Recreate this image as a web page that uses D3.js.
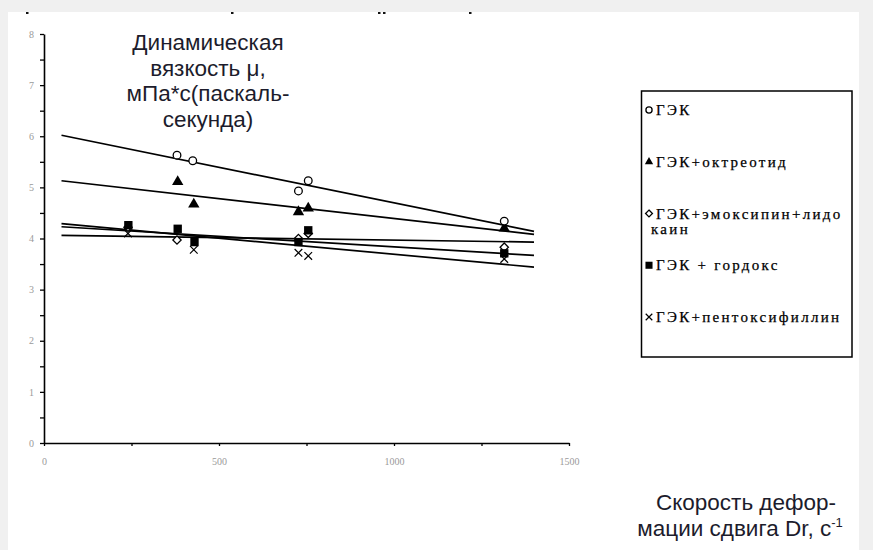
<!DOCTYPE html>
<html><head><meta charset="utf-8">
<script src="https://cdn.jsdelivr.net/npm/d3@7"></script>
<style>
html,body{margin:0;padding:0;background:#f0f0f0;}
svg{display:block;}
</style></head>
<body>
<svg id="chart" width="873" height="550"></svg>
<script>
// ---- data ----
const seriesNames = ["ГЭК", "ГЭК+октреотид", "ГЭК+эмоксипин+лидо|каин", "ГЭК + гордокс", "ГЭК+пентоксифиллин"];
const seriesSymbols = ["circle", "triangle", "diamond", "square", "times"];
const xGEK      = [380, 425, 727, 755, 1315];
const yGEK      = [5.63, 5.52, 4.93, 5.13, 4.34];
const xOktr     = [382, 428, 727, 755, 1315];
const yOktr     = [5.11, 4.67, 4.52, 4.59, 4.20];
const xEmox     = [240, 380, 727, 755, 1315];
const yEmox     = [4.22, 3.97, 4.00, 4.10, 3.83];
const xGord     = [241, 382, 430, 727, 755, 1315];
const yGord     = [4.26, 4.19, 3.93, 3.93, 4.16, 3.71];
const xPent     = [240, 428, 727, 755, 1315];
const yPent     = [4.10, 3.78, 3.72, 3.66, 3.60];
const trendX    = [50, 1400];
const trendStart = [6.02, 5.13, 4.06, 4.23, 4.29];
const trendEnd   = [4.14, 4.08, 3.93, 3.67, 3.44];
const yTicks = [0, 1, 2, 3, 4, 5, 6, 7, 8];
const xTicks = [0, 500, 1000, 1500];
const titleLines = ["Динамическая", "вязкость μ,", "мПа*с(паскаль-", "секунда)"];
const xTitleLines = ["Скорость дефор-", "мации сдвига Dr, с"];

const seriesX = [xGEK, xOktr, xEmox, xGord, xPent];
const seriesY = [yGEK, yOktr, yEmox, yGord, yPent];

const svg = d3.select("#chart");

// white panel
svg.append("rect").attr("x", 8).attr("y", 12).attr("width", 851).attr("height", 538).attr("fill", "#fff");
// clipped text fragments at the top edge
[27, 232, 379, 384, 470].forEach(px => {
  svg.append("rect").attr("x", px - 1).attr("y", 12).attr("width", 2.5).attr("height", 2).attr("fill", "#111");
});

const x = d3.scaleLinear().domain([0, 1500]).range([44, 569]);
const y = d3.scaleLinear().domain([0, 8]).range([443, 34]);

// y axis
const yAxis = d3.axisLeft(y).tickValues(d3.range(0, 8.01, 0.5)).tickSize(4).tickSizeOuter(0)
  .tickPadding(6)
  .tickFormat(d => yTicks.includes(d) ? d : "");
const gy = svg.append("g").attr("transform", `translate(${x(0)},0)`).call(yAxis);
gy.select(".domain").attr("stroke", "#000").attr("stroke-width", 1.6);
gy.selectAll(".tick line").attr("stroke", "#000").attr("stroke-width", 1.3);
gy.selectAll(".tick text").attr("fill", "#9a9a9a").attr("font-family", "Liberation Serif, serif").attr("font-size", 10);

// x axis
const xAxis = d3.axisBottom(x).tickValues(d3.range(0, 1501, 250)).tickSize(3).tickSizeOuter(0)
  .tickPadding(12)
  .tickFormat(d => xTicks.includes(d) ? d : "");
const gx = svg.append("g").attr("transform", `translate(0,${y(0)})`).call(xAxis);
gx.select(".domain").attr("stroke", "#000").attr("stroke-width", 1.6);
gx.selectAll(".tick line").attr("stroke", "#000").attr("stroke-width", 1.3);
gx.selectAll(".tick text").attr("fill", "#9a9a9a").attr("font-family", "Liberation Serif, serif").attr("font-size", 10);

// trend lines
const line = d3.line().x(d => x(d[0])).y(d => y(d[1]));
trendStart.forEach((s, i) => {
  svg.append("path").datum([[trendX[0], s], [trendX[1], trendEnd[i]]])
    .attr("d", line).attr("fill", "none").attr("stroke", "#000").attr("stroke-width", 1.7);
});

// markers
function symbolFor(name) {
  const map = {circle: d3.symbolCircle, triangle: d3.symbolTriangle, diamond: d3.symbolDiamond2, square: d3.symbolSquare, times: d3.symbolTimes};
  return map[name];
}
function styleMarker(sel, name) {
  if (name === "circle" || name === "diamond") sel.attr("fill", "#fff").attr("stroke", "#000").attr("stroke-width", 1.3);
  else if (name === "times") sel.attr("fill", "none").attr("stroke", "#000").attr("stroke-width", 1.2);
  else sel.attr("fill", "#000").attr("stroke", "none");
}
const sizes = {circle: 46, triangle: 56, diamond: 44, square: 70, times: 40};
// draw order: lower series first so top ones are visible as in reference
[4, 2, 3, 1, 0].forEach(si => {
  const name = seriesSymbols[si];
  const pts = seriesX[si].map((xv, k) => [xv, seriesY[si][k]]);
  const g = svg.append("g");
  g.selectAll("path").data(pts).enter().append("path")
    .attr("transform", d => `translate(${x(d[0])},${y(d[1])})`)
    .attr("d", d3.symbol().type(symbolFor(name)).size(sizes[name]))
    .call(s => styleMarker(s, name));
});

// legend
svg.append("rect").attr("x", 641.5).attr("y", 91).attr("width", 210.5).attr("height", 266)
  .attr("fill", "#fff").attr("stroke", "#000").attr("stroke-width", 1.5);
const legY = d3.scalePoint().domain(d3.range(seriesNames.length)).range([110, 317]);
seriesNames.forEach((nm, i) => {
  const yy = legY(i);
  const sym = seriesSymbols[i];
  const p = svg.append("path").attr("transform", `translate(649,${yy})`)
    .attr("d", d3.symbol().type(symbolFor(sym)).size(sym === "square" ? 50 : 30));
  styleMarker(p, sym);
  const parts = nm.split("|");
  parts.forEach((t, k) => {
    svg.append("text").attr("x", k === 0 ? 656 : 651).attr("y", yy + 5 + k * 15)
      .attr("font-family", "Liberation Serif, Times New Roman, serif").attr("font-size", 15)
      .attr("letter-spacing", 2.3).attr("fill", "#000")
      .attr("stroke", "#000").attr("stroke-width", 0.25).text(t);
  });
});

// y title
const ttl = svg.append("text").attr("font-family", "Liberation Sans, Arial, sans-serif").attr("font-size", 22.5)
  .attr("fill", "#1c1c2c").attr("text-anchor", "middle");
titleLines.forEach((t, i) => ttl.append("tspan").attr("x", 208).attr("y", 50 + i * 25.7).text(t));

// x title
const xt = svg.append("text").attr("font-family", "Liberation Sans, Arial, sans-serif").attr("font-size", 22.5)
  .attr("fill", "#1c1c2c").attr("text-anchor", "middle");
xt.append("tspan").attr("x", 746).attr("y", 510).text(xTitleLines[0]);
xt.append("tspan").attr("x", 740).attr("y", 536).text(xTitleLines[1]);
xt.append("tspan").attr("dy", -9).attr("font-size", 13).text("-1");
</script>
</body></html>
